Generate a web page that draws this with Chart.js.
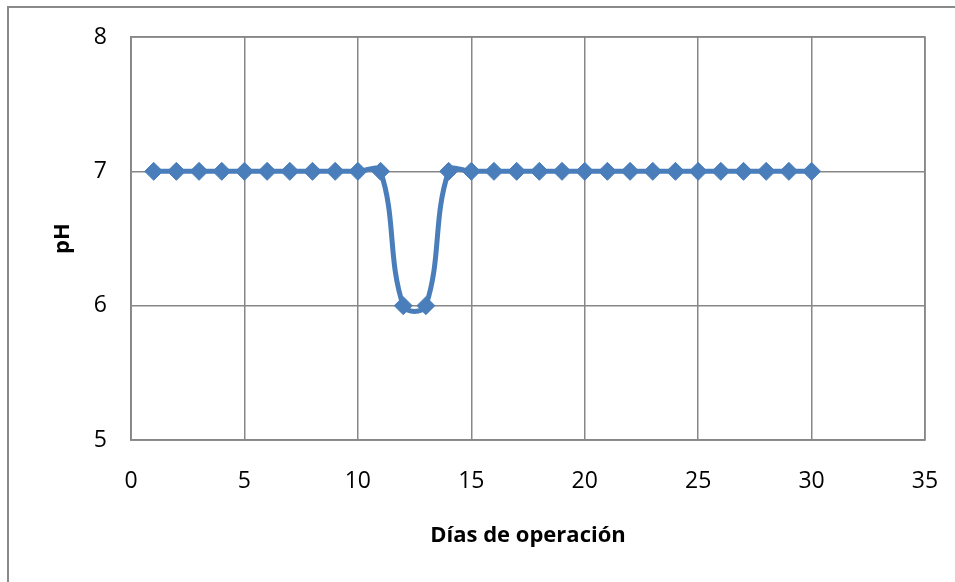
<!DOCTYPE html>
<html>
<head>
<meta charset="utf-8">
<script src="https://cdn.jsdelivr.net/npm/chart.js@4/dist/chart.umd.min.js"></script>
<style>
  body { margin: 0; background: #fff; overflow: hidden; width: 955px; height: 582px; position: relative; }
  #frame { position: absolute; left: 7px; top: 6px; width: 1000px; height: 1000px; border: 2px solid #8a8a8a; box-sizing: border-box; }
  #c { position: absolute; left: 0; top: 0; }
</style>
</head>
<body>
<div id="frame"></div>
<canvas id="c" width="955" height="582"></canvas>
<script>
// pH por día de operación
const days = [1,2,3,4,5,6,7,8,9,10,11,12,13,14,15,16,17,18,19,20,21,22,23,24,25,26,27,28,29,30];
const phValues = [7,7,7,7,7,7,7,7,7,7,7,6,6,7,7,7,7,7,7,7,7,7,7,7,7,7,7,7,7,7];
const xTicks = [0, 5, 10, 15, 20, 25, 30, 35];
const yTicks = [5, 6, 7, 8];

const blue = '#4a7ebb';
const gridColor = '#878787';
const fontFamily = '"Open Sans", "Liberation Sans", sans-serif';

const points = days.map((d, i) => ({ x: d, y: phValues[i] }));

new Chart(document.getElementById('c').getContext('2d'), {
    type: 'line',
    data: {
        datasets: [{
            label: 'pH',
            data: points,
            borderColor: blue,
            backgroundColor: blue,
            borderWidth: 5,
            tension: 0.4,
            pointStyle: 'rectRot',
            pointRadius: 9,
            pointBackgroundColor: blue,
            pointBorderColor: blue,
            pointBorderWidth: 1,
            fill: false
        }]
    },
    options: {
        responsive: false,
        animation: false,
        layout: { padding: { left: 50, top: 37, right: 30, bottom: 0 } },
        plugins: { legend: { display: false }, tooltip: { enabled: false } },
        scales: {
            x: {
                type: 'linear',
                min: xTicks[0], max: xTicks[xTicks.length - 1],
                afterBuildTicks: s => { s.ticks = xTicks.map(v => ({ value: v })); },
                afterFit: s => { s.height = 142; s.paddingLeft = 0; s.paddingRight = 0; },
                grid: { color: gridColor, lineWidth: 1.5, drawTicks: false },
                border: { color: gridColor, width: 1.5 },
                ticks: { padding: 28, color: '#000', font: { family: fontFamily, size: 23 }, maxRotation: 0 },
                title: { display: true, text: 'Días de operación', color: '#000',
                         font: { family: fontFamily, size: 22, weight: 'bold' }, padding: { top: 0, bottom: 33 } }
            },
            y: {
                min: yTicks[0], max: yTicks[yTicks.length - 1],
                afterBuildTicks: s => { s.ticks = yTicks.map(v => ({ value: v })); },
                afterFit: s => { s.width = 81; s.paddingTop = 0; s.paddingBottom = 0; },
                grid: { color: gridColor, lineWidth: 1.5, drawTicks: false },
                border: { color: gridColor, width: 1.5 },
                ticks: { padding: 24, color: '#000', font: { family: fontFamily, size: 23 } },
                title: { display: true, text: 'pH', color: '#000',
                         font: { family: fontFamily, size: 22, weight: 'bold' }, padding: 0 }
            }
        }
    },
    plugins: [{
        id: 'plotFrame',
        afterDraw(chart) {
            const { ctx, chartArea: a } = chart;
            ctx.save();
            ctx.strokeStyle = gridColor;
            ctx.lineWidth = 1.5;
            ctx.strokeRect(a.left, a.top, a.right - a.left, a.bottom - a.top);
            ctx.restore();
        }
    }]
});
</script>
</body>
</html>
